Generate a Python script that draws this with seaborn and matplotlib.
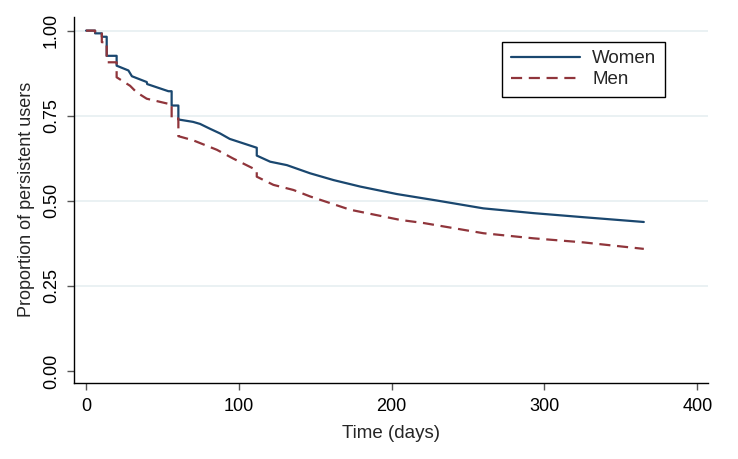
import pandas as pd
import seaborn as sns
import matplotlib.pyplot as plt
from matplotlib.ticker import FormatStrFormatter

# Kaplan-Meier style vertices (day, proportion)
women_days = [0, 5.9, 5.9, 10.3, 10.3, 13.5, 13.5, 20, 20, 27.7, 30, 39.7, 40, 53.9, 56, 56,
              60.4, 60.4, 70, 74.6, 81, 87.7, 94, 111.7, 111.7, 120.5, 131.4, 146.6, 162,
              179.4, 203.4, 229.6, 260, 292.8, 325.6, 365]
women_vals = [1.0, 1.0, 0.992, 0.992, 0.982, 0.982, 0.926, 0.926, 0.897, 0.883, 0.866, 0.849,
              0.843, 0.822, 0.822, 0.78, 0.78, 0.739, 0.732, 0.726, 0.712, 0.698, 0.682, 0.656,
              0.633, 0.615, 0.605, 0.581, 0.561, 0.542, 0.52, 0.501, 0.478, 0.464, 0.452, 0.438]

men_days = [0, 5.9, 5.9, 10.3, 10.3, 13.5, 13.5, 20, 20, 28.8, 33, 39.7, 53.9, 56, 56, 60.4,
            60.4, 70, 85.6, 96.4, 111.7, 111.7, 122.6, 135.7, 146.6, 172.8, 205.6, 220.8,
            260, 292.8, 325.6, 365]
men_vals = [1.0, 1.0, 0.995, 0.995, 0.966, 0.966, 0.907, 0.907, 0.863, 0.838, 0.819, 0.80,
            0.785, 0.785, 0.742, 0.742, 0.69, 0.678, 0.65, 0.624, 0.59, 0.571, 0.547, 0.532,
            0.513, 0.474, 0.444, 0.435, 0.405, 0.39, 0.378, 0.359]

groups = ['Women', 'Men']
y_ticks = [0, 0.25, 0.5, 0.75, 1.0]
x_ticks = [0, 100, 200, 300, 400]

df = pd.concat([
    pd.DataFrame({'Time (days)': women_days, 'Proportion': women_vals, 'Sex': 'Women'}),
    pd.DataFrame({'Time (days)': men_days, 'Proportion': men_vals, 'Sex': 'Men'}),
], ignore_index=True)

sns.set_theme(style='white')
plt.rcParams['font.family'] = ['Liberation Sans', 'DejaVu Sans']

fig = plt.figure(figsize=(7.38, 4.59), dpi=100)
ax = fig.add_axes([74 / 738, 1 - 382.7 / 459, 634 / 738, 365.7 / 459])

# gridlines (Stata s2color look), skip the one at 0
for yv in y_ticks[1:]:
    ax.axhline(yv, color='#e8f0f2', lw=1.3, zorder=0)

sns.lineplot(data=df, x='Time (days)', y='Proportion', hue='Sex', style='Sex',
             hue_order=groups, style_order=groups,
             palette={'Women': '#1a476f', 'Men': '#90353b'},
             dashes={'Women': '', 'Men': (5, 3)},
             estimator=None, sort=False, units='Sex', lw=1.6, ax=ax)

ax.set_xlim(-7.9, 407)
ax.set_ylim(-0.034, 1.04)
ax.set_xticks(x_ticks)
ax.set_yticks(y_ticks)
ax.yaxis.set_major_formatter(FormatStrFormatter('%.2f'))
ax.tick_params(axis='both', which='major', direction='out', length=5, width=1,
               color='#555555', labelsize=13, labelcolor='black',
               bottom=True, left=True)
ax.tick_params(axis='x', pad=6)
ax.tick_params(axis='y', pad=5)
for lbl in ax.get_yticklabels():
    lbl.set_rotation(90)
    lbl.set_va('center')

for s in ['top', 'right']:
    ax.spines[s].set_visible(False)
for s in ['left', 'bottom']:
    ax.spines[s].set_color('black')
    ax.spines[s].set_linewidth(1)

ax.set_xlabel('Time (days)', fontsize=13.5, labelpad=7)
ax.set_ylabel('Proportion of persistent users', fontsize=13, labelpad=6)

leg = ax.legend(loc='upper right', bbox_to_anchor=(0.932, 0.932), borderaxespad=0,
                fontsize=13.5, frameon=True, fancybox=False, handlelength=3.7,
                labelspacing=0.2, borderpad=0.45, handletextpad=0.65, title=None)
leg.get_frame().set_edgecolor('black')
leg.get_frame().set_linewidth(1)
leg.get_frame().set_facecolor('white')
leg.get_frame().set_alpha(1)

fig.savefig('out.png', dpi=100)
plt.close()
